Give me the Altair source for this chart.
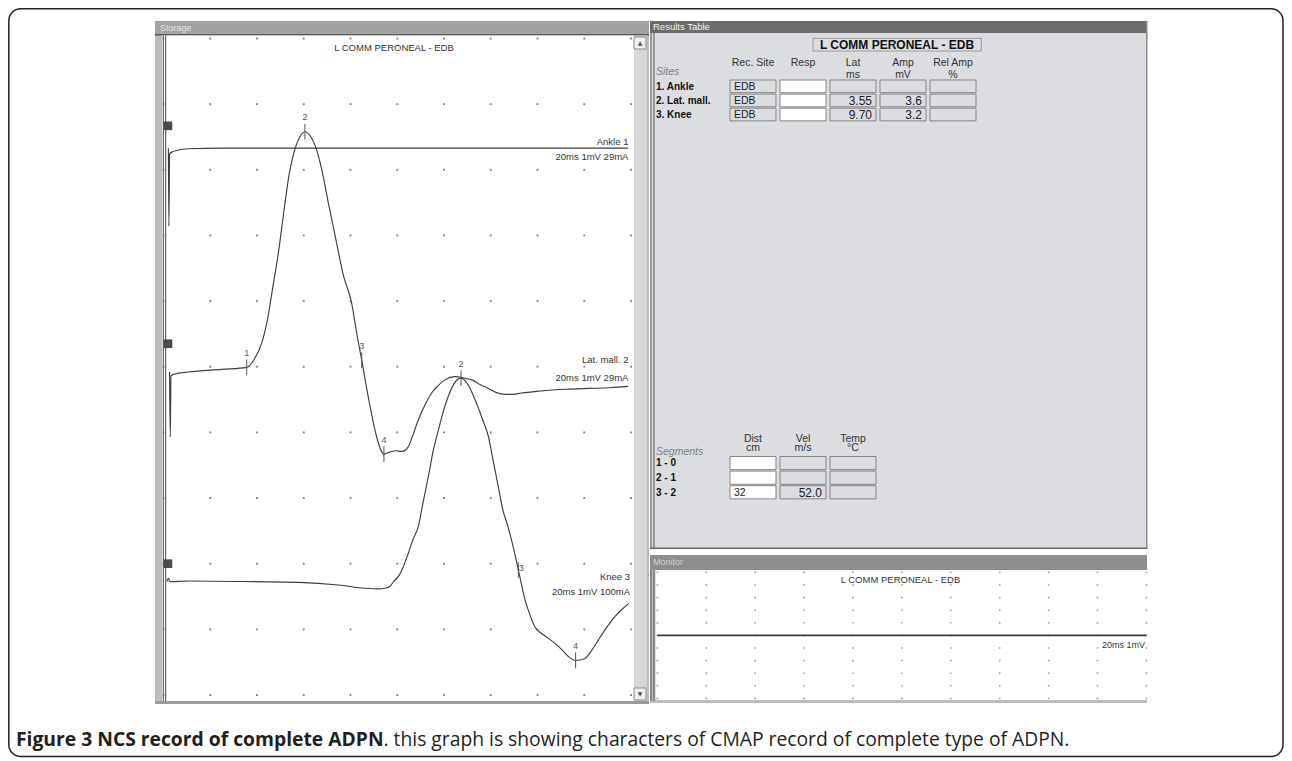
import altair as alt
import pandas as pd

# ---------------- values ----------------
# storage traces: time (ms) and amplitude relative to each trace's own baseline (mV)
trace_names = ["Ankle 1", "Lat. mall. 2", "Knee 3"]
trace_settings = ["20ms 1mV 29mA", "20ms 1mV 29mA", "20ms 1mV 100mA"]
trace_offset = [8.33, 4.95, 1.726]        # screen baseline of each trace (divisions of 1 mV)
trace_label_v = [8.43, 5.10, 1.80]
trace_setting_v = [8.195, 4.83, 1.57]
trace_label_t = [19.89, 19.89, 19.96]
trace_handle_v = [8.67, 5.35, 2.00]

ankle_t = [0.21, 0.23, 0.26, 0.36, 0.58, 1.06, 2.49, 10.0, 19.88]
ankle_mv = [0.0, -1.19, -0.09, -0.06, -0.035, -0.01, 0.0, 0.0, 0.0]

lat_t = [0.26, 0.29, 0.32, 0.49, 1.06, 2.49, 3.56, 3.91, 4.20, 4.47, 4.68, 4.90, 5.20,
         5.37, 5.55, 5.80, 6.05, 6.31, 6.62, 6.82, 7.05, 7.38, 7.69, 8.05, 8.28, 8.48,
         8.76, 9.12, 9.30, 9.43, 9.60, 9.76, 9.95, 10.19, 10.47, 10.67, 10.90, 11.19,
         11.47, 11.74, 12.04, 12.47, 12.73, 12.94, 13.19, 13.54, 13.90, 14.22, 14.61,
         14.95, 15.32, 16.11, 16.75, 17.39, 18.17, 19.10, 19.88]
lat_mv = [-0.03, -1.02, -0.09, -0.06, -0.03, 0.01, 0.04, 0.18, 0.41, 0.81, 1.27, 1.75, 2.55,
          2.97, 3.27, 3.53, 3.63, 3.55, 3.27, 2.97, 2.55, 1.98, 1.45, 1.02, 0.53, 0.15,
          -0.41, -1.02, -1.22, -1.28, -1.26, -1.24, -1.23, -1.24, -1.17, -0.99, -0.76, -0.53,
          -0.35, -0.24, -0.15, -0.10, -0.11, -0.13, -0.15, -0.22, -0.28, -0.34, -0.37,
          -0.37, -0.35, -0.32, -0.30, -0.29, -0.28, -0.27, -0.25]

knee_t = [0.14, 0.21, 0.28, 1.06, 3.91, 5.77, 7.48, 8.62, 9.19, 9.48, 9.69, 9.86, 10.05,
          10.25, 10.47, 10.67, 10.90, 11.10, 11.33, 11.53, 11.76, 11.96, 12.18, 12.42,
          12.73, 13.03, 13.33, 13.63, 13.90, 14.10, 14.32, 14.52, 14.72, 14.96, 15.18,
          15.47, 15.68, 15.89, 16.18, 16.45, 16.75, 17.05, 17.32, 17.63, 18.03, 18.33,
          18.60, 18.93, 19.32, 19.62, 19.91]
knee_mv = [0.0, 0.05, 0.0, 0.01, 0.0, -0.01, -0.05, -0.10, -0.11, -0.10, -0.07, 0.01, 0.08,
           0.22, 0.43, 0.64, 0.84, 1.20, 1.60, 1.98, 2.31, 2.58, 2.82, 3.01,
           3.10, 3.00, 2.77, 2.49, 2.21, 1.85, 1.45, 1.09, 0.86, 0.53, 0.18,
           -0.28, -0.51, -0.69, -0.79, -0.86, -0.94, -1.04, -1.14, -1.20, -1.17, -1.04,
           -0.89, -0.71, -0.53, -0.42, -0.33]

# cursor markers
mk_trace = ["Lat. mall. 2"] * 4 + ["Knee 3"] * 3
mk_label = ["1", "2", "3", "4", "2", "3", "4"]
mk_t = [3.56, 6.05, 8.48, 9.43, 12.73, 15.18, 17.63]
mk_mv = [0.04, 3.63, 0.15, -1.28, 3.10, 0.18, -1.20]

grid_t = [0, 2, 4, 6, 8, 10, 12, 14, 16, 18, 20]
grid_v = [0, 1, 2, 3, 4, 5, 6, 7, 8, 9, 10]

monitor_t = [0, 20]
monitor_mv = [0, 0]
monitor_offset = 5

# results table
sites = ["1. Ankle", "2. Lat. mall.", "3. Knee"]
rec_site = ["EDB", "EDB", "EDB"]
lat_ms = [None, "3.55", "9.70"]
amp_mv = [None, "3.6", "3.2"]
site_head1 = ["Rec. Site", "Resp", "Lat", "Amp", "Rel Amp"]
site_head2 = ["", "", "ms", "mV", "%"]
segments = ["1 - 0", "2 - 1", "3 - 2"]
dist_cm = [None, None, "32"]
vel_ms = [None, None, "52.0"]
seg_head1 = ["Dist", "Vel", "Temp"]
seg_head2 = ["cm", "m/s", "°C"]

title_txt = "L COMM PERONEAL - EDB"
cap_bold = "Figure 3 NCS record of complete ADPN"
cap_rest = ". this graph is showing characters of CMAP record of complete type of ADPN."

# ---------------- helpers ----------------
OX = OY = 8
W, H = 1276, 750
ONE = pd.DataFrame({"k": [0]})
UI = "Liberation Sans"


def box(x1, y1, x2, y2, fill, stroke=None, sw=1.0, r=0, fo=1.0):
    kw = dict(fill=fill, fillOpacity=fo)
    if stroke:
        kw.update(stroke=stroke, strokeWidth=sw)
    else:
        kw.update(strokeWidth=0)
    if r:
        kw.update(cornerRadius=r)
    return alt.Chart(ONE).mark_rect(**kw).encode(
        x=alt.value(x1 - OX), x2=alt.value(x2 - OX),
        y=alt.value(y1 - OY), y2=alt.value(y2 - OY))


def txt(x, y, s, size=10, align="left", weight="normal", color="#222", font=UI, italic=False):
    kw = dict(text=s, fontSize=size, align=align, baseline="middle",
              fontWeight=weight, color=color, font=font)
    if italic:
        kw["fontStyle"] = "italic"
    return alt.Chart(ONE).mark_text(**kw).encode(x=alt.value(x - OX), y=alt.value(y - OY))


L = []

# ---------------- window chrome ----------------
BODY = "#dcdde1"
# storage window
L += [box(155, 21, 649, 704, "#bdbdbd"),
      box(155, 21, 649, 34, "#a2a2a2"),
      box(155, 34, 649, 35.5, "#5a5a5a"),
      box(162, 35.5, 634, 701, "white"),
      box(634, 35.5, 647, 701, "#d6d6d6"),
      box(634, 37, 646, 49, "#efefef", "#8a8a8a"),
      box(634, 688, 646, 700, "#efefef", "#8a8a8a"),
      txt(640, 43, "▲", 6, "center", color="#555", font="DejaVu Sans"),
      txt(640, 694, "▼", 6, "center", color="#555", font="DejaVu Sans"),
      box(155, 701, 649, 704, "#9a9a9a"),
      txt(160, 27.5, "Storage", 9, color="#e6e6e6"),
      box(162.8, 35.5, 163.8, 701, "#444"),
      box(165.2, 35.5, 166.2, 701, "#444")]
# results window
L += [box(650, 21, 1147, 549, BODY),
      box(650, 21, 1147, 33, "#6d6d6d"),
      box(650.5, 33, 651.5, 549, "#555"),
      box(653.5, 33, 654.5, 549, "#555"),
      box(1146, 21, 1147.5, 549, "#8a8a8a"),
      box(650, 547.5, 1147, 549, "#666"),
      txt(653, 27, "Results Table", 9.5, color="#f2f2f2"),
      box(813, 38.3, 981.3, 51, BODY, "#9a9a9a"),
      txt(897, 45, title_txt, 12, "center", "bold", "#111")]
# monitor window
L += [box(650, 555, 1147, 703, "#bcbcbc"),
      box(650, 555, 1147, 570, "#8e8e8e"),
      box(655.5, 570, 1147, 700, "white"),
      box(650.5, 570, 651.5, 701, "#555"),
      box(653.5, 570, 654.5, 701, "#555"),
      txt(653, 562, "Monitor", 9, color="#d0d0d0"),
      txt(900.5, 580, title_txt, 9.5, "center", color="#333")]

# ---------------- storage traces ----------------
XS = alt.Scale(domain=[0, 20], range=[163.5 - OX, 631 - OX], nice=False, zero=False)
YS = alt.Scale(domain=[0, 10], range=[695 - OY, 38.5 - OY], nice=False, zero=False)
X = lambda f: alt.X(f, type="quantitative", scale=XS, axis=None)
Y = lambda f: alt.Y(f, type="quantitative", scale=YS, axis=None)

grid = pd.DataFrame([(t, v) for t in grid_t for v in grid_v], columns=["t", "v"])
L.append(alt.Chart(grid).mark_square(size=3.5, color="#6f6f6f", opacity=0.85).encode(x=X("t"), y=Y("v")))

rows = []
for name, off, ts, ms in zip(trace_names, trace_offset,
                             [ankle_t, lat_t, knee_t], [ankle_mv, lat_mv, knee_mv]):
    for i, (t, m) in enumerate(zip(ts, ms)):
        rows.append(dict(trace=name, i=i, t=t, pos=m + off))
tr = pd.DataFrame(rows)
L.append(alt.Chart(tr).mark_line(interpolate="monotone", strokeWidth=1.15, color="#3e3e3e").encode(
    x=X("t"), y=Y("pos"), detail="trace:N", order="i:Q"))

offs = dict(zip(trace_names, trace_offset))
mk = pd.DataFrame(dict(trace=mk_trace, lab=mk_label, t=mk_t, mv=mk_mv))
mk["pos"] = mk["mv"] + mk["trace"].map(offs)
mk["lo"] = mk["pos"] - 0.12
mk["hi"] = mk["pos"] + 0.12
beside = (mk["trace"] == "Knee 3") & (mk["lab"] == "3")
mk["ly"] = mk["pos"] + 0.22
mk.loc[beside, "ly"] = mk.loc[beside, "pos"] + 0.03
mk["lt"] = mk["t"]
mk.loc[beside, "lt"] = mk.loc[beside, "t"] + 0.12
L.append(alt.Chart(mk).mark_rule(color="#555", strokeWidth=1).encode(x=X("t"), y=Y("lo"), y2="hi"))
L.append(alt.Chart(mk).mark_text(fontSize=9, color="#555", font=UI).encode(
    x=X("lt"), y=Y("ly"), text="lab:N"))

lab = pd.DataFrame(dict(name=trace_names, setting=trace_settings, t=trace_label_t,
                        v1=trace_label_v, v2=trace_setting_v, hv=trace_handle_v))
L.append(alt.Chart(lab).mark_text(align="right", fontSize=9.5, color="#333", font=UI).encode(
    x=X("t"), y=Y("v1"), text="name:N"))
L.append(alt.Chart(lab).mark_text(align="right", fontSize=9.5, color="#333", font=UI).encode(
    x=X("t"), y=Y("v2"), text="setting:N"))
lab["ht"] = 0.19
L.append(alt.Chart(lab).mark_square(size=75, color="#4a4a4a", opacity=1).encode(x=X("ht"), y=Y("hv")))
L.append(txt(394, 48, title_txt, 9.5, "center", color="#333"))

# ---------------- monitor trace ----------------
XM = alt.Scale(domain=[0, 20], range=[657.4 - OX, 1146.4 - OX], nice=False, zero=False)
YM = alt.Scale(domain=[0, 10], range=[698.4 - OY, 572.4 - OY], nice=False, zero=False)
L.append(alt.Chart(grid).mark_square(size=2.5, color="#8a8a8a", opacity=0.8).encode(
    x=alt.X("t:Q", scale=XM, axis=None), y=alt.Y("v:Q", scale=YM, axis=None)))
mon = pd.DataFrame(dict(t=monitor_t, pos=[m + monitor_offset for m in monitor_mv]))
L.append(alt.Chart(mon).mark_line(strokeWidth=1.6, color="#3a3a3a").encode(
    x=alt.X("t:Q", scale=XM, axis=None), y=alt.Y("pos:Q", scale=YM, axis=None)))
L.append(txt(1145, 645, "20ms 1mV", 9, "right", color="#333"))

# ---------------- results table ----------------
TX = alt.Scale(domain=[0, 1], range=[730 - OX, 780 - OX], nice=False, zero=False)
TY = alt.Scale(domain=[0, 1], range=[80 - OY, 94.1 - OY], nice=False, zero=False)
SY = alt.Scale(domain=[0, 1], range=[456.5 - OY, 471.1 - OY], nice=False, zero=False)


def table_layers(ys, row_names, head1, head2, cols_vals, white_col, left_col, hy1, hy2):
    out = []
    cells = []
    for r in range(len(row_names)):
        for c in range(len(head1)):
            cells.append(dict(r0=r, r1=r + 0.9, c0=c, c1=c + 0.92,
                              fill="white" if c == white_col else BODY))
    cdf = pd.DataFrame(cells)
    out.append(alt.Chart(cdf).mark_rect(stroke="#858585", strokeWidth=1).encode(
        x=alt.X("c0:Q", scale=TX, axis=None), x2="c1:Q",
        y=alt.Y("r0:Q", scale=ys, axis=None), y2="r1:Q",
        fill=alt.Fill("fill:N", scale=None)))
    hdf = pd.DataFrame(dict(c=[i + 0.46 for i in range(len(head1))], h1=head1, h2=head2,
                            y1=hy1, y2=hy2))
    for f, yf in (("h1", "y1"), ("h2", "y2")):
        out.append(alt.Chart(hdf).mark_text(fontSize=10.5, color="#333", font=UI).encode(
            x=alt.X("c:Q", scale=TX, axis=None), y=alt.Y(yf + ":Q", scale=ys, axis=None), text=f + ":N"))
    rdf = pd.DataFrame(dict(name=row_names, r=[i + 0.47 for i in range(len(row_names))], c=-1.48))
    out.append(alt.Chart(rdf).mark_text(fontSize=10, fontWeight="bold", color="#111", align="left", font=UI).encode(
        x=alt.X("c:Q", scale=TX, axis=None), y=alt.Y("r:Q", scale=ys, axis=None), text="name:N"))
    vals = []
    for c, colv in cols_vals.items():
        for r, v in enumerate(colv):
            if v is not None:
                left = c == left_col
                vals.append(dict(v=v, r=r + 0.47, c=c + (0.08 if left else 0.84), left=left))
    vdf = pd.DataFrame(vals)
    for left in (True, False):
        sub = vdf[vdf["left"] == left]
        if len(sub):
            out.append(alt.Chart(sub).mark_text(
                fontSize=10.5 if left else 12, color="#222", font=UI,
                align="left" if left else "right").encode(
                x=alt.X("c:Q", scale=TX, axis=None), y=alt.Y("r:Q", scale=ys, axis=None), text="v:N"))
    return out


L += table_layers(TY, sites, site_head1, site_head2,
                  {0: rec_site, 2: lat_ms, 3: amp_mv}, white_col=1, left_col=0, hy1=-1.24, hy2=-0.35)
L += table_layers(SY, segments, seg_head1, seg_head2,
                  {0: dist_cm, 1: vel_ms}, white_col=0, left_col=0, hy1=-1.2, hy2=-0.55)
L.append(txt(656, 72.3, "Sites", 10.5, color="#808080", italic=True))
L.append(txt(656, 451.5, "Segments", 10.5, color="#808080", italic=True))

# ---------------- caption & frame ----------------
L.append(txt(16, 740, cap_bold, 19.3, weight="bold", color="#231f20", font="Open Sans"))
L.append(txt(383.5, 740, cap_rest, 19.3, color="#231f20", font="Open Sans"))
L.append(box(8.8, 8.8, 1283, 756.5, "white", "#222", 1.5, r=12, fo=0))

chart = alt.layer(*L).resolve_scale(x="independent", y="independent").properties(
    width=W, height=H, padding=0, autosize=alt.AutoSizeParams(type="none"),
    background="white").configure_view(stroke=None)

chart.save("out.html", embed_options={"renderer": "svg", "actions": False})
